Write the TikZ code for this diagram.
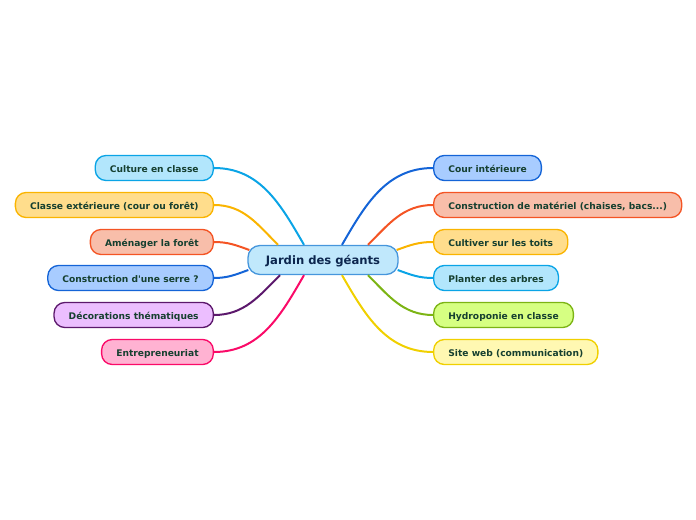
\documentclass[tikz,border=0pt]{standalone}
\usepackage{fontspec}
\setmainfont{DejaVu Sans}
\usetikzlibrary{calc}
\definecolor{leaftext}{RGB}{22,64,48}
\definecolor{roottext}{RGB}{12,38,78}
\definecolor{rootfill}{RGB}{192,232,252}
\definecolor{rootdraw}{RGB}{70,150,220}
\definecolor{cyanfill}{RGB}{178,230,252}
\definecolor{cyandraw}{RGB}{10,164,230}
\definecolor{goldfill}{RGB}{255,221,140}
\definecolor{golddraw}{RGB}{250,180,0}
\definecolor{salmonfill}{RGB}{248,190,170}
\definecolor{salmondraw}{RGB}{244,84,36}
\definecolor{bluefill}{RGB}{168,204,255}
\definecolor{bluedraw}{RGB}{20,100,215}
\definecolor{lilacfill}{RGB}{236,190,255}
\definecolor{lilacdraw}{RGB}{92,24,108}
\definecolor{pinkfill}{RGB}{255,178,210}
\definecolor{pinkdraw}{RGB}{250,10,104}
\definecolor{limefill}{RGB}{214,255,130}
\definecolor{limedraw}{RGB}{124,180,20}
\definecolor{creamfill}{RGB}{255,248,178}
\definecolor{creamdraw}{RGB}{240,208,0}
\tikzset{
  root/.style={
    rectangle, rounded corners=9pt, minimum width=150*0.75pt, minimum height=29*0.75pt,
    draw=rootdraw, fill=rootfill, line width=1pt, text=roottext,
    font=\fontsize{8.7}{10}\selectfont\bfseries, inner sep=0pt,
    text height=1.55ex, text depth=0.35ex
  },
  leaf/.style={
    rectangle, rounded corners=8pt, minimum height=25*0.75pt, inner xsep=11pt, inner ysep=0pt,
    line width=1pt, text=leaftext, font=\fontsize{6.85}{8}\selectfont\bfseries,
    text height=1.55ex, text depth=0.35ex
  },
  branch/.style={line width=1.5pt}
}
\begin{document}
\begin{tikzpicture}[x=0.75pt, y=0.75pt]
  \useasboundingbox (0,0) rectangle (696,-520);

  \node[root] (c) at (323,-260) {Jardin des géants};

  % left side
  \node[leaf, anchor=east, draw=cyandraw, fill=cyanfill]     (l1) at (214,-168) {Culture en classe};
  \node[leaf, anchor=east, draw=golddraw, fill=goldfill]     (l2) at (214,-205) {Classe extérieure (cour ou forêt)};
  \node[leaf, anchor=east, draw=salmondraw, fill=salmonfill] (l3) at (214,-242) {Aménager la forêt};
  \node[leaf, anchor=east, draw=bluedraw, fill=bluefill]     (l4) at (214,-278) {Construction d\textquotesingle une serre ?};
  \node[leaf, anchor=east, draw=lilacdraw, fill=lilacfill]   (l5) at (214,-315) {Décorations thématiques};
  \node[leaf, anchor=east, draw=pinkdraw, fill=pinkfill]     (l6) at (214,-352) {Entrepreneuriat};

  % right side
  \node[leaf, anchor=west, draw=bluedraw, fill=bluefill]     (r1) at (433,-168) {Cour intérieure};
  \node[leaf, anchor=west, draw=salmondraw, fill=salmonfill] (r2) at (433,-205) {Construction de matériel (chaises, bacs...)};
  \node[leaf, anchor=west, draw=golddraw, fill=goldfill]     (r3) at (433,-242) {Cultiver sur les toits};
  \node[leaf, anchor=west, draw=cyandraw, fill=cyanfill]     (r4) at (433,-278) {Planter des arbres};
  \node[leaf, anchor=west, draw=limedraw, fill=limefill]     (r5) at (433,-315) {Hydroponie en classe};
  \node[leaf, anchor=west, draw=creamdraw, fill=creamfill]   (r6) at (433,-352) {Site web (communication)};

  \begin{scope}[branch]
    \draw[cyandraw]   (l1.east) to[out=0, in=120] ($(c.north)+(-19,0)$);
    \draw[golddraw]   (l2.east) to[out=0, in=135] ($(c.north)+(-45,0)$);
    \draw[salmondraw] (l3.east) to[out=0, in=160] ($(c.west)+(2,10)$);
    \draw[bluedraw]   (l4.east) to[out=0, in=200] ($(c.west)+(1,-10)$);
    \draw[lilacdraw]  (l5.east) to[out=0, in=225] ($(c.south)+(-43,0)$);
    \draw[pinkdraw]   (l6.east) to[out=0, in=240] ($(c.south)+(-19,0)$);

    \draw[bluedraw]   (r1.west) to[out=180, in=60]  ($(c.north)+(19,0)$);
    \draw[salmondraw] (r2.west) to[out=180, in=45]  ($(c.north)+(45,0)$);
    \draw[golddraw]   (r3.west) to[out=180, in=20]  ($(c.east)+(-2,10)$);
    \draw[cyandraw]   (r4.west) to[out=180, in=-20] ($(c.east)+(-1,-10)$);
    \draw[limedraw]   (r5.west) to[out=180, in=-45] ($(c.south)+(45,0)$);
    \draw[creamdraw]  (r6.west) to[out=180, in=-60] ($(c.south)+(19,0)$);
  \end{scope}
\end{tikzpicture}
\end{document}
